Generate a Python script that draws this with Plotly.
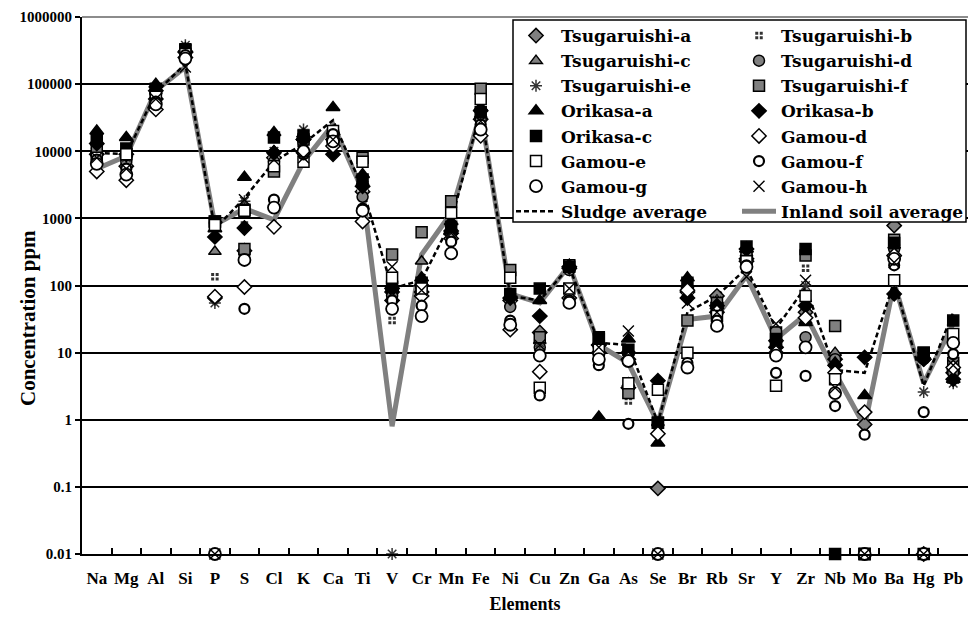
import plotly.graph_objects as go

elements = ["Na", "Mg", "Al", "Si", "P", "S", "Cl", "K", "Ca", "Ti", "V", "Cr", "Mn", "Fe", "Ni",
            "Cu", "Zn", "Ga", "As", "Se", "Br", "Rb", "Sr", "Y", "Zr", "Nb", "Mo", "Ba", "Hg", "Pb"]

tsugaruishi_a = [9000, 6000, 60000, 300000, 65, 330, 8000, 15000, 15000, 2500, 80, 80, 600, 30000, 60,
                 20, 180, 13, 3, 0.095, 80, 70, 250, 15, 40, 8, 0.85, 780, 8, 5]
tsugaruishi_b = [9000, 7000, 70000, 300000, 135, 800, 9000, 15000, 14000, 3000, 30, 70, 700, 35000, 65,
                 13, 180, 12, 1.9, 0.8, 90, 55, 300, 14, 180, 7, 0.01, 450, 8, 5]
tsugaruishi_c = [10000, 9000, 80000, 320000, 320, 1300, 10000, 16000, 20000, 3500, 90, 230, 650, 35000, 70,
                 15, 200, 14, 3.5, 0.9, 100, 60, 300, 16, 30, 10, 0.01, 400, 9, 6]
tsugaruishi_d = [9000, 7000, 70000, 300000, 850, 300, 7000, 14000, 15000, 2100, 70, 90, 600, 30000, 48,
                 12, 170, 12, 3, 0.85, 90, 55, 280, 13, 17, 8, 0.01, 350, 8, 5]
tsugaruishi_e = [11000, 8000, 80000, 380000, 55, 1800, 10000, 21000, 18000, 3500, 0.01, 100, 800, 40000, 75,
                 14, 190, 14, 3.2, 0.8, 70, 60, 350, 15, 100, 6, 0.01, 400, 2.6, 3.5]
tsugaruishi_f = [10000, 9000, 75000, 330000, 900, 350, 5000, 15000, 16000, 8000, 290, 620, 1800, 85000, 170,
                 17, 200, 16, 2.5, 0.9, 30, 55, 300, 20, 280, 25, 0.01, 480, 10, 7]
orikasa_a = [20000, 16000, 100000, 340000, 700, 4100, 19000, 18000, 45000, 4500, 100, 130, 900, 45000, 70,
             60, 200, 1.1, 16, 0.45, 130, 50, 350, 13, 28, 7, 2.3, 300, 9, 4]
orikasa_b = [13000, 9000, 80000, 300000, 530, 720, 9500, 15000, 9000, 3000, 90, 100, 650, 40000, 65,
             35, 190, 13, 10, 3.8, 65, 50, 350, 12, 50, 6.5, 8.5, 75, 8, 4]
orikasa_c = [15000, 11000, 85000, 320000, 900, 1350, 16000, 17000, 17000, 3800, 95, 110, 750, 38000, 75,
             90, 190, 17, 11, 0.9, 110, 45, 380, 16, 350, 0.01, 0.01, 430, 10, 30]
gamou_d = [5000, 3700, 42000, 250000, 68, 95, 750, 9500, 12000, 900, 60, 70, 500, 17000, 22,
           5.2, 65, 10, 8, 0.62, 85, 40, 230, 10, 33, 5, 1.3, 280, 0.01, 6]
gamou_e = [8000, 9000, 65000, 280000, 800, 1300, 6000, 7000, 20000, 7000, 130, 90, 1200, 60000, 130,
           3, 90, 11, 3.5, 2.8, 10, 35, 230, 3.2, 70, 4, 0.01, 120, 0.01, 19]
gamou_f = [7500, 5500, 55000, 270000, 0.01, 45, 1900, 9000, 18000, 1400, 60, 50, 450, 25000, 30,
           2.3, 60, 6.5, 0.87, 0.01, 7, 30, 200, 5, 4.5, 1.6, 0.6, 200, 1.3, 9.5]
gamou_g = [6500, 4500, 50000, 240000, 0.01, 240, 1450, 10000, 14000, 1300, 45, 35, 300, 21000, 26,
           9, 55, 8, 7.5, 0.01, 6, 25, 190, 9, 12, 2.5, 0.01, 250, 0.01, 14]
gamou_h = [8000, 5500, 60000, 180000, 0.01, 1900, 7500, 8000, 15000, 3500, 190, 85, 600, 28000, 65,
           13, 90, 12, 21, 0.01, 55, 40, 135, 27, 120, 3, 0.01, 220, 0.01, 6.5]
sludge_average = [9500, 9000, 75000, 200000, 700, 2000, 7000, 13000, 29000, 2800, 90, 120, 900, 40000, 70,
                  60, 190, 14, 13, 0.9, 40, 70, 180, 23, 95, 5.5, 5, 115, 3.2, 40]
inland_soil_average = [5500, 8500, 80000, 180000, 800, 1400, 950, 7000, 25000, 2600, 0.8, 290, 1200, 38000, 75,
                       55, 200, 13, 7, 0.9, 31, 35, 140, 16, 37, 5, 0.8, 110, 3.5, 27]

y_tick_values = [0.01, 0.1, 1, 10, 100, 1000, 10000, 100000, 1000000]
y_tick_labels = ["0.01", "0.1", "1", "10", "100", "1000", "10000", "100000", "1000000"]
y_title = "Concentration ppm"
x_title = "Elements"

GRAY = "#808080"
FONT = "Liberation Serif"
LEGEND_FONT = "DejaVu Serif"

# (name, values, symbol, fill, line color, line width, size, legend)
series = [
    ("Tsugaruishi-a", tsugaruishi_a, "diamond", GRAY, "black", 1.5, 11, "legend"),
    ("Tsugaruishi-b", tsugaruishi_b, "square-cross", "#333333", "white", 1.5, 9, "legend2"),
    ("Tsugaruishi-c", tsugaruishi_c, "triangle-up", GRAY, "black", 1.5, 11, "legend"),
    ("Tsugaruishi-d", tsugaruishi_d, "circle", GRAY, "black", 1.5, 11, "legend2"),
    ("Tsugaruishi-e", tsugaruishi_e, "asterisk-open", "#333333", "#333333", 1.5, 10, "legend"),
    ("Tsugaruishi-f", tsugaruishi_f, "square", GRAY, "black", 1.5, 11, "legend2"),
    ("Orikasa-a", orikasa_a, "triangle-up", "black", "black", 1.5, 12, "legend"),
    ("Orikasa-b", orikasa_b, "diamond", "black", "black", 1.5, 11, "legend2"),
    ("Orikasa-c", orikasa_c, "square", "black", "black", 1.5, 11, "legend"),
    ("Gamou-d", gamou_d, "diamond", "white", "black", 1.5, 11, "legend2"),
    ("Gamou-e", gamou_e, "square", "white", "black", 1.5, 11, "legend"),
    ("Gamou-f", gamou_f, "circle", "white", "black", 2.2, 10, "legend2"),
    ("Gamou-g", gamou_g, "circle", "white", "black", 1.8, 12, "legend"),
    ("Gamou-h", gamou_h, "x-thin-open", "black", "black", 1.4, 11, "legend2"),
]

fig = go.Figure()

fig.add_trace(go.Scatter(
    x=elements, y=inland_soil_average, mode="lines", name="Inland soil average",
    line=dict(color=GRAY, width=5), legend="legend2", legendrank=2000))
fig.add_trace(go.Scatter(
    x=elements, y=sludge_average, mode="lines", name="Sludge average",
    line=dict(color="black", width=2.5, dash="5px,3px"), legend="legend", legendrank=2000))

for i, (name, vals, sym, fill, lc, lw, sz, lg) in enumerate(series):
    fig.add_trace(go.Scatter(
        x=elements, y=vals, mode="markers", name=name, legend=lg, legendrank=100 + i,
        cliponaxis=False,
        marker=dict(symbol=sym, color=fill, size=sz, line=dict(color=lc, width=lw))))

# plot-area geometry in pixels (for paper-coordinate placement of the legend box)
W, H = 969, 621
L, R, T, B = 82, 1, 17, 67
pw, ph = W - L - R, H - T - B


def px_x(p):
    return (p - L) / pw


def px_y(p):
    return 1 - (p - T) / ph


legend_font = dict(family=LEGEND_FONT, size=17, color="black", weight="bold")

fig.update_layout(
    width=W, height=H,
    margin=dict(l=L, r=R, t=T, b=B, autoexpand=False),
    paper_bgcolor="white", plot_bgcolor="white",
    font=dict(family=FONT, color="black"),
    showlegend=True,
    legend=dict(x=px_x(511), y=px_y(18), xanchor="left", yanchor="top",
                bgcolor="rgba(0,0,0,0)", borderwidth=0, font=legend_font,
                itemwidth=40, traceorder="normal", tracegroupgap=0),
    legend2=dict(x=px_x(737), y=px_y(18), xanchor="left", yanchor="top",
                 bgcolor="rgba(0,0,0,0)", borderwidth=0, font=legend_font,
                 itemwidth=34, traceorder="normal", tracegroupgap=0),
    shapes=[
        dict(type="rect", xref="paper", yref="paper", layer="above",
             x0=px_x(513), x1=px_x(966), y0=px_y(222), y1=px_y(20),
             line=dict(color="black", width=1.5), fillcolor="white"),
        dict(type="line", xref="paper", yref="paper", layer="above",
             x0=0, x1=1, y0=1, y1=1, line=dict(color="#8c8c8c", width=2)),
    ],
    annotations=[
        dict(text=y_title, xref="paper", yref="paper", x=px_x(28), y=px_y(318),
             xanchor="center", yanchor="middle", showarrow=False, textangle=-90,
             font=dict(family=FONT, size=21, color="black", weight="bold")),
    ],
)

fig.update_xaxes(
    type="category", categoryorder="array", categoryarray=elements,
    range=[-0.5, len(elements) - 0.5],
    showline=True, linecolor="black", linewidth=2,
    ticks="inside", tickson="boundaries", ticklen=6, tickwidth=1.5, tickcolor="black",
    showgrid=False, zeroline=False, tickangle=0,
    tickfont=dict(family=FONT, size=17, color="black", weight="bold"),
    ticklabelstandoff=8,
    title=dict(text=x_title, font=dict(family=FONT, size=18, color="black", weight="bold"), standoff=10),
)

fig.update_yaxes(
    type="log", range=[-2, 6],
    tickmode="array", tickvals=y_tick_values, ticktext=y_tick_labels,
    showline=True, linecolor="black", linewidth=2,
    ticks="outside", ticklen=5, tickwidth=1.5, tickcolor="black",
    showgrid=True, gridcolor="black", gridwidth=2, zeroline=False,
    tickfont=dict(family=FONT, size=15, color="black", weight="bold"),
)

fig.write_html("out.html")
